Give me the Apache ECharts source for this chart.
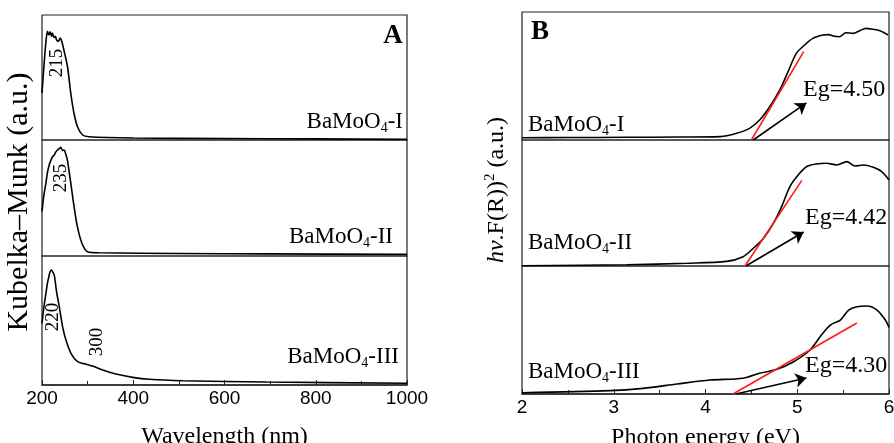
<!DOCTYPE html>
<html><head><meta charset="utf-8">
<script src="https://cdn.jsdelivr.net/npm/echarts@6/dist/echarts.min.js"></script>
<style>html,body{margin:0;padding:0;background:#fff}#c{width:894px;height:443px}</style>
</head><body><div id="c"></div>
<script>
// ---- Panel A: Kubelka–Munk vs wavelength ----
const wlTicks = [200, 400, 600, 800, 1000];
const A_x1 = [200,204,209,212,215,218,221,223,226,229,232,236,240,244,248,256,263,270,278,289,303,400,600,800,1000];
const A_y1 = [37.6,58,80,87,84,86.5,83,85.6,82,83,80,79,81.6,78,72,58.4,37.6,21.6,10.4,4,2.6,1.6,1.2,0.9,0.5];
const A_x2 = [200,204,208.6,212,215.8,219,223,227,230,234,238,241,245,248.4,252,255.6,259,263.1,270.3,277.6,287.3,299.6,325,500,700,1000];
const A_y2 = [38.2,52,62.9,72,78.4,82,85.6,87,89.5,91.4,92.5,93.7,91,91.4,88,82.8,74,62.9,42.5,25.3,11.2,3.7,2.8,2.2,1.8,1.4];
const A_x3 = [200,204,208.6,212,215.8,218,220.9,223,226.8,231.9,237.8,245.1,252.5,263.5,278,296.5,311,333,362.2,398.7,435.4,508.6,692,1000];
const A_y3 = [47.8,60,71.1,79,85.3,88,89.1,88,85.3,72.4,60.8,45.3,34.9,24.6,18.1,16.1,14.7,11.6,8.5,5.9,4.4,3.3,2.3,1.3];
const peakLabels = ['215', '235', '220', '300'];
const sampleNames = ['I', 'II', 'III'];

// ---- Panel B: (hv F(R))^2 vs photon energy ----
const evTicks = [2, 3, 4, 5, 6];
const B_x1 = [2.00,2.5,3.14,3.7,4.16,4.34,4.48,4.59,4.70,4.81,4.90,4.99,5.08,5.17,5.28,5.34,5.39,5.46,5.53,5.61,5.68,5.75,5.82,5.90,5.99];
const B_y1 = [1.8,1.9,2.1,2.3,2.6,5.2,9.1,15.6,26.0,39.1,53.4,67.7,74.2,79.4,82.0,82.3,81.3,80.7,83.8,83.3,85.4,87.2,86.5,85.4,82.0];
const B_x2 = [2.00,3.14,3.8,4.23,4.41,4.52,4.63,4.74,4.83,4.92,5.01,5.10,5.21,5.32,5.43,5.54,5.63,5.72,5.83,5.92,6.00];
const B_y2 = [0.2,1.0,2.2,3.7,7.4,14.0,21.9,33.9,47.1,63.0,72.2,78.8,81.0,81.5,80.2,82.8,79.4,80.2,78.3,74.9,68.3];
const B_x3 = [2.00,2.96,3.32,3.69,4.05,4.41,4.59,4.78,4.96,5.14,5.25,5.36,5.47,5.56,5.65,5.76,5.87,5.96,6.00];
const B_y3 = [1.0,2.6,4.4,7.8,10.9,12.3,16.2,19.3,25.2,34.4,44.8,53.9,57.8,65.6,68.2,68.8,65.6,57.8,52];
const fitI = [[4.50,0],[5.07,69]];
const fitII = [[4.43,0],[5.05,68]];
const fitIII = [[4.30,0],[5.65,55.5]];
const arrowI = [[4.52,0],[5.10,29]];
const arrowII = [[4.44,0],[5.07,27]];
const arrowIII = [[4.33,0],[5.10,12.5]];
const egLabels = ['Eg=4.50', 'Eg=4.42', 'Eg=4.30'];

const zip = (xs, ys) => xs.map((x, i) => [x, ys[i]]);
const SERIF = '"Liberation Serif", "DejaVu Serif", serif';
const SANS = '"Liberation Sans", Arial, sans-serif';

const gridsA = [{top:15,h:125},{top:140,h:116},{top:256,h:129}];
const gridsB = [{top:12,h:128},{top:140,h:126},{top:266,h:128}];
const grid = [], xAxis = [], yAxis = [], series = [];

function addPanel(g, left, width, min, max, interval, bottom, name, nameGap) {
  const idx = grid.length;
  grid.push({left:left, top:g.top, width:width, height:g.h, show:true, borderColor:'#222', borderWidth:1.2,
    backgroundColor:'transparent', containLabel:false, outerBoundsMode:'none'});
  xAxis.push({
    type:'value', gridIndex:idx, min:min, max:max, interval:interval,
    show: bottom,
    axisLine:{show:true, lineStyle:{color:'#222', width:1.5}},
    axisTick:{show:true, inside:true, length:5, lineStyle:{color:'#222'}},
    minorTick:{show:true, splitNumber:2, length:4, lineStyle:{color:'#222'}},
    splitLine:{show:false},
    axisLabel:{show:bottom, color:'#000', fontFamily:SANS, fontSize:19, margin:4, showMaxLabel:true,
      formatter: v => String(v)},
    name: bottom ? name : '', nameLocation:'middle', nameGap:nameGap,
    nameTextStyle:{color:'#000', fontFamily:SERIF, fontSize:24}
  });
  yAxis.push({type:'value', gridIndex:idx, min:0, max:100, show:false, splitLine:{show:false}});
  return idx;
}

const curvesA = [zip(A_x1,A_y1), zip(A_x2,A_y2), zip(A_x3,A_y3)];
const curvesB = [zip(B_x1,B_y1), zip(B_x2,B_y2), zip(B_x3,B_y3)];
const fits = [fitI, fitII, fitIII];
const arrows = [arrowI, arrowII, arrowIII];

gridsA.forEach((g, i) => {
  const idx = addPanel(g, 42, 365, 200, 1000, 200, i === 2, 'Wavelength (nm)', 40);
  series.push({type:'line', xAxisIndex:idx, yAxisIndex:idx, data:curvesA[i], showSymbol:false, smooth:0.3,
    lineStyle:{color:'#000', width:1.6}, silent:true, animation:false});
});
gridsB.forEach((g, i) => {
  const idx = addPanel(g, 522, 367, 2, 6, 1, i === 2, 'Photon energy (eV)', 32);
  series.push({type:'line', xAxisIndex:idx, yAxisIndex:idx, data:curvesB[i], showSymbol:false, smooth:0.3,
    lineStyle:{color:'#000', width:1.6}, silent:true, animation:false});
  series.push({type:'line', xAxisIndex:idx, yAxisIndex:idx, data:fits[i], showSymbol:false,
    lineStyle:{color:'#ff1a1a', width:1.6}, silent:true, animation:false});
  series.push({type:'lines', coordinateSystem:'cartesian2d', xAxisIndex:idx, yAxisIndex:idx,
    data:[{coords:arrows[i]}], symbol:['none','arrow'], symbolSize:[8,11],
    lineStyle:{color:'#000', width:1.6, opacity:1}, silent:true, animation:false});
});

const rich = {
  n:{fontFamily:SERIF, fontSize:23, lineHeight:26, color:'#000'},
  s:{fontFamily:SERIF, fontSize:14, lineHeight:8, verticalAlign:'bottom', color:'#000'}
};
function label(txt, x, y, align) {
  return {type:'text', x:x, y:y, style:{text:'{n|BaMoO}{s|4}{n|-' + txt + '}', rich:rich, align:align, verticalAlign:'middle'}};
}
function plain(txt, x, y, font, align, rot) {
  return {type:'text', x:x, y:y, rotation:rot || 0,
    style:{text:txt, font:font, fill:'#000', align:align || 'center', verticalAlign:'middle'}};
}
const graphic = [
  plain('A', 393, 36, 'bold 27px ' + SERIF),
  plain('B', 540, 32, 'bold 27px ' + SERIF),
  label(sampleNames[0], 403, 122, 'right'),
  label(sampleNames[1], 393, 237, 'right'),
  label(sampleNames[2], 399, 357, 'right'),
  label(sampleNames[0], 528, 125, 'left'),
  label(sampleNames[1], 528, 243, 'left'),
  label(sampleNames[2], 528, 372, 'left'),
  plain(egLabels[0], 803, 90, '24px ' + SERIF, 'left'),
  plain(egLabels[1], 805, 218, '24px ' + SERIF, 'left'),
  plain(egLabels[2], 805, 366, '24px ' + SERIF, 'left'),
  plain(peakLabels[0], 57, 63, '19px ' + SERIF, 'center', Math.PI/2),
  plain(peakLabels[1], 61, 178, '19px ' + SERIF, 'center', Math.PI/2),
  plain(peakLabels[2], 53, 317, '19px ' + SERIF, 'center', Math.PI/2),
  plain(peakLabels[3], 97, 342, '19px ' + SERIF, 'center', Math.PI/2),
  plain('Kubelka\u2013Munk (a.u.)', 19, 202, '30px ' + SERIF, 'center', Math.PI/2),
  {type:'text', x:497, y:190, rotation:Math.PI/2, style:{
    text:'{i|hv}{n|.F(R))}{p|2}{n| (a.u.)}', align:'center', verticalAlign:'middle',
    rich:{
      i:{fontFamily:SERIF, fontStyle:'italic', fontSize:24, lineHeight:28, color:'#000'},
      n:{fontFamily:SERIF, fontSize:24, lineHeight:28, color:'#000'},
      p:{fontFamily:SERIF, fontSize:15, lineHeight:8, verticalAlign:'top', color:'#000'}
    }}}
];

const chart = echarts.init(document.getElementById('c'), null, {renderer:'canvas'});
chart.setOption({animation:false, backgroundColor:'#fff', grid, xAxis, yAxis, series, graphic});
</script></body></html>
